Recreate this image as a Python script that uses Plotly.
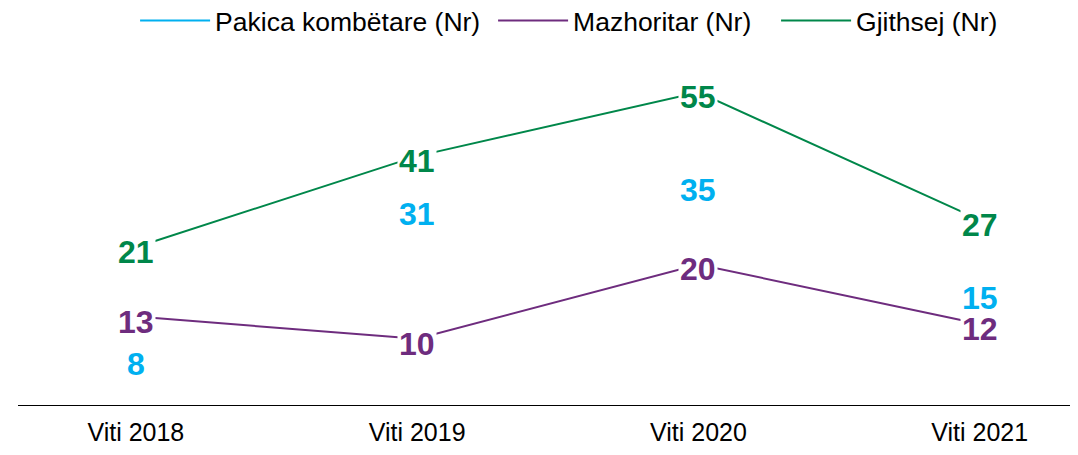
import plotly.graph_objects as go

categories = ["Viti 2018", "Viti 2019", "Viti 2020", "Viti 2021"]
pakica = [8, 31, 35, 15]
mazhoritar = [13, 10, 20, 12]
gjithsej = [21, 41, 55, 27]

names = ["Pakica kombëtare (Nr)", "Mazhoritar (Nr)", "Gjithsej (Nr)"]
BLUE = "#00B0F0"
PURPLE = "#6E2C7E"
GREEN = "#00874A"
FONT = "Arial, Liberation Sans, sans-serif"

xs = list(range(len(categories)))

fig = go.Figure()
# blue series: values shown as labels only; its legend entry is a line
fig.add_trace(go.Scatter(x=xs, y=pakica, mode="none", name=names[0], yaxis="y3",
                         showlegend=False, hoverinfo="skip"))
fig.add_trace(go.Scatter(x=[None], y=[None], mode="lines", name=names[0],
                         line=dict(color=BLUE, width=2), legend="legend"))
fig.add_trace(go.Scatter(x=xs, y=mazhoritar, mode="lines", name=names[1], yaxis="y2",
                         line=dict(color=PURPLE, width=2), legend="legend2"))
fig.add_trace(go.Scatter(x=xs, y=gjithsej, mode="lines", name=names[2], yaxis="y",
                         line=dict(color=GREEN, width=2), legend="legend3"))

annotations = []
label_shift = -5
for x, v in zip(xs, gjithsej):
    annotations.append(dict(x=x, y=v, xref="x", yref="y", text=f"<b>{v}</b>", showarrow=False,
                            font=dict(family=FONT, size=32, color=GREEN), bgcolor="white",
                            borderpad=1, yshift=label_shift))
for x, v in zip(xs, mazhoritar):
    annotations.append(dict(x=x, y=v, xref="x", yref="y2", text=f"<b>{v}</b>", showarrow=False,
                            font=dict(family=FONT, size=32, color=PURPLE), bgcolor="white",
                            borderpad=1, yshift=label_shift))
blue_nudge = [-12, 0, 0, 12]
for x, v, n in zip(xs, pakica, blue_nudge):
    annotations.append(dict(x=x, y=v, xref="x", yref="y3", text=f"<b>{v}</b>", showarrow=False,
                            font=dict(family=FONT, size=32, color=BLUE),
                            borderpad=1, yshift=n))

leg_common = dict(orientation="h", yref="paper", y=1.114, yanchor="middle", xanchor="left",
                  font=dict(size=26.5, color="black", family=FONT), itemwidth=70,
                  bgcolor="rgba(0,0,0,0)")

fig.update_layout(
    width=1062, height=439,
    margin=dict(l=10, r=0, t=52, b=42, autoexpand=False),
    paper_bgcolor="white", plot_bgcolor="white",
    font=dict(family=FONT, color="black"),
    showlegend=True,
    legend=dict(x=0.1113, **leg_common),
    legend2=dict(x=0.4516, **leg_common),
    legend3=dict(x=0.7206, **leg_common),
    xaxis=dict(range=[-0.419, 3.321], tickvals=xs, ticktext=categories, showgrid=False,
               zeroline=False, showline=True, linecolor="black", linewidth=1.3,
               tickfont=dict(size=25, color="black"), ticks="", ticklabelstandoff=5),
    yaxis=dict(range=[-13.66, 62.11], visible=False),
    yaxis2=dict(range=[1.10, 47.50], visible=False, overlaying="y"),
    yaxis3=dict(range=[-0.95, 56.83], visible=False, overlaying="y"),
    annotations=annotations,
)

fig.write_html("out.html")
